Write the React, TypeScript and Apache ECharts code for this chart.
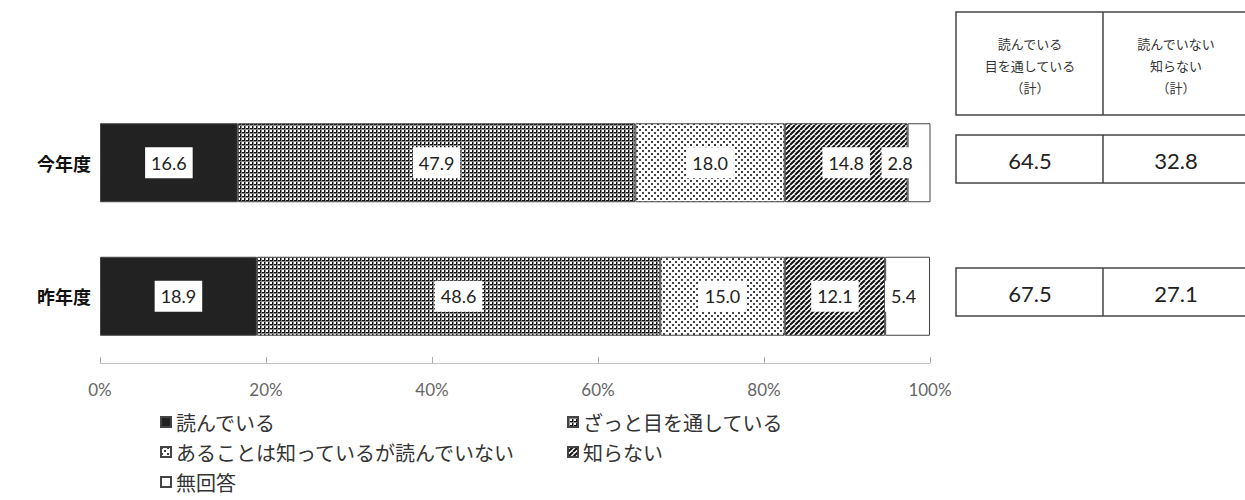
import React, { useEffect, useRef } from 'react';
import * as echarts from 'echarts';

const categories = ['今年度', '昨年度'];
const seriesNames = [
  '読んでいる',
  'ざっと目を通している',
  'あることは知っているが読んでいない',
  '知らない',
  '無回答',
];
const reading = [16.6, 18.9];
const skimming = [47.9, 48.6];
const knowNotRead = [18.0, 15.0];
const notKnow = [14.8, 12.1];
const noAnswer = [2.8, 5.4];
const xTicks = [0, 20, 40, 60, 80, 100];
const tableHeaders = ['読んでいる\n目を通している\n（計）', '読んでいない\n知らない\n（計）'];

const JP = '"Noto Sans CJK JP", "Noto Sans", sans-serif';
const NUM = 'Lato, "Noto Sans", sans-serif';

function makeCanvas(w: number, h: number, draw: (ctx: CanvasRenderingContext2D) => void) {
  const c = document.createElement('canvas');
  c.width = w;
  c.height = h;
  const ctx = c.getContext('2d')!;
  ctx.fillStyle = '#fff';
  ctx.fillRect(0, 0, w, h);
  draw(ctx);
  return c;
}

export default function App() {
  const ref = useRef<HTMLDivElement>(null);
  useEffect(() => {
    if (!ref.current) return;
    const chart = echarts.init(ref.current, undefined, { renderer: 'svg' });

    const gridPat = makeCanvas(4, 4, (ctx) => {
      ctx.fillStyle = '#111';
      ctx.fillRect(0, 0, 4, 1);
      ctx.fillRect(0, 0, 1, 4);
      ctx.fillStyle = '#888';
      ctx.fillRect(0, 1, 4, 1);
      ctx.fillRect(1, 0, 1, 4);
    });
    const dotPat = makeCanvas(6, 6, (ctx) => {
      ctx.fillStyle = '#444';
      ctx.fillRect(0, 0, 2, 2);
      ctx.fillRect(3, 3, 2, 2);
    });
    const hatchPat = makeCanvas(5, 5, (ctx) => {
      ctx.strokeStyle = '#111';
      ctx.lineWidth = 2;
      for (const k of [-5, 0, 5]) {
        ctx.beginPath();
        ctx.moveTo(k, 5);
        ctx.lineTo(k + 5, 0);
        ctx.stroke();
      }
    });

    const fills: any[] = [
      '#222',
      { image: gridPat, repeat: 'repeat' },
      { image: dotPat, repeat: 'repeat' },
      { image: hatchPat, repeat: 'repeat' },
      '#fff',
    ];
    const values = [reading, skimming, knowNotRead, notKnow, noAnswer];
    const lastLabelOffsets = [[-19, 0], [-4, 0]];

    const legendPos = [
      [160, 412],
      [567, 412],
      [160, 442],
      [567, 442],
      [160, 472],
    ];

    const readTotal = reading.map((v, i) => (v + skimming[i]).toFixed(1));
    const notReadTotal = knowNotRead.map((v, i) => (v + notKnow[i]).toFixed(1));
    const rowCenters = [159, 292];
    const colCenters = [1030, 1176];

    const graphic: any[] = [
      {
        type: 'rect',
        shape: { x: 956, y: 12, width: 320, height: 103 },
        style: { fill: 'none', stroke: '#444', lineWidth: 1.5 },
      },
      {
        type: 'line',
        shape: { x1: 1103, y1: 12, x2: 1103, y2: 115 },
        style: { stroke: '#444', lineWidth: 1.5 },
      },
    ];
    tableHeaders.forEach((t, i) => {
      graphic.push({
        type: 'text',
        x: colCenters[i],
        y: 65,
        style: {
          text: t,
          fontSize: 13,
          fontFamily: JP,
          fill: '#333',
          lineHeight: 22,
          align: 'center',
          verticalAlign: 'middle',
        },
      });
    });
    rowCenters.forEach((cy, ri) => {
      graphic.push({
        type: 'rect',
        shape: { x: 956, y: cy - 24, width: 320, height: 48 },
        style: { fill: 'none', stroke: '#444', lineWidth: 1.5 },
      });
      graphic.push({
        type: 'line',
        shape: { x1: 1103, y1: cy - 24, x2: 1103, y2: cy + 24 },
        style: { stroke: '#444', lineWidth: 1.5 },
      });
      [readTotal[ri], notReadTotal[ri]].forEach((txt, ci) => {
        graphic.push({
          type: 'text',
          x: colCenters[ci],
          y: cy + 1,
          style: {
            text: txt,
            fontSize: 22,
            fontFamily: NUM,
            fill: '#222',
            align: 'center',
            verticalAlign: 'middle',
          },
        });
      });
    });

    chart.setOption({
      animation: false,
      backgroundColor: '#fff',
      grid: { left: 100, width: 830, top: 96, height: 267, containLabel: false },
      xAxis: {
        type: 'value',
        min: xTicks[0],
        max: xTicks[xTicks.length - 1],
        interval: xTicks[1] - xTicks[0],
        axisLine: { show: true, lineStyle: { color: '#c4c4c4', width: 1 } },
        axisTick: { show: true, inside: true, length: 6, lineStyle: { color: '#aaa' } },
        splitLine: { show: false },
        axisLabel: {
          formatter: '{value}%',
          color: '#666',
          fontSize: 17,
          fontFamily: NUM,
          margin: 18,
        },
      },
      yAxis: {
        type: 'category',
        data: categories,
        inverse: true,
        axisLine: { show: false },
        axisTick: { show: false },
        axisLabel: {
          fontSize: 18,
          fontWeight: 'bold',
          color: '#111',
          fontFamily: JP,
          margin: 9,
        },
      },
      legend: seriesNames.map((n, i) => ({
        data: [n],
        left: legendPos[i][0],
        top: legendPos[i][1],
        icon: 'rect',
        itemWidth: 10,
        itemHeight: 10,
        padding: 0,
        selectedMode: false,
        textStyle: { fontSize: 20, fontFamily: JP, color: '#333' },
      })),
      series: seriesNames.map((name, si) => ({
        name,
        type: 'bar',
        stack: 'total',
        barWidth: 79,
        itemStyle: { color: fills[si], borderColor: '#444', borderWidth: 1 },
        label: {
          show: true,
          position: 'inside',
          formatter: (p: any) => Number(p.value).toFixed(1),
          backgroundColor: '#fff',
          padding: [6, 6, 5, 6],
          fontSize: 18,
          lineHeight: 20,
          fontFamily: NUM,
          color: '#222',
        },
        data: values[si].map((v, ci) =>
          si === 4 ? { value: v, label: { offset: lastLabelOffsets[ci] } } : v
        ),
      })),
      graphic,
    });
    return () => chart.dispose();
  }, []);
  return (
    <div
      ref={ref}
      style={{ position: 'absolute', left: 0, top: 0, width: 1245, height: 500, background: '#fff' }}
    />
  );
}
